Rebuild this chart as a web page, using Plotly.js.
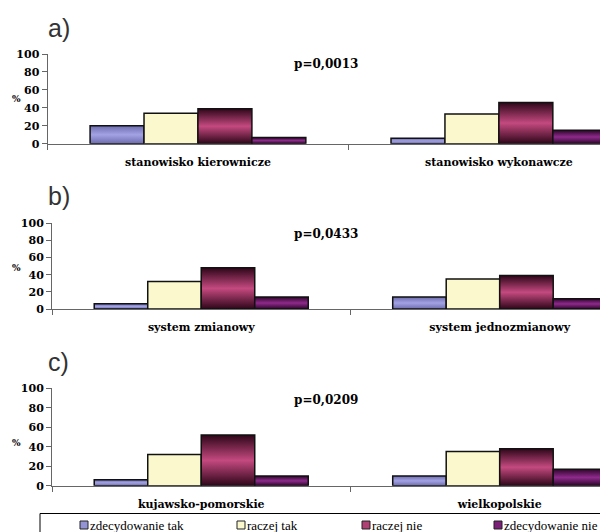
<!DOCTYPE html>
<html>
<head>
<meta charset="utf-8">
<script src="https://cdn.plot.ly/plotly-3.0.1.min.js"></script>
<style>
html,body{margin:0;padding:0;background:#fff;}
#chart{width:600px;height:532px;}
</style>
</head>
<body>
<div id="chart"></div>
<script>
// ---- data ----
const seriesNames = ["zdecydowanie tak", "raczej tak", "raczej nie", "zdecydowanie nie"];
const panelLabels = ["a)", "b)", "c)"];
const pValues = ["p=0,0013", "p=0,0433", "p=0,0209"];

const categoriesA = ["stanowisko kierownicze", "stanowisko wykonawcze"];
const categoriesB = ["system zmianowy", "system jednozmianowy"];
const categoriesC = ["kujawsko-pomorskie", "wielkopolskie"];

// values per series: [first category, second category]
const zdecydowanieTakA = [20, 6];
const raczejTakA       = [34, 33];
const raczejNieA       = [39, 46];
const zdecydowanieNieA = [7, 15];

const zdecydowanieTakB = [6, 14];
const raczejTakB       = [32, 35];
const raczejNieB       = [48, 39];
const zdecydowanieNieB = [14, 12];

const zdecydowanieTakC = [6, 10];
const raczejTakC       = [32, 35];
const raczejNieC       = [52, 38];
const zdecydowanieNieC = [10, 17];

const yTickVals = [0, 20, 40, 60, 80, 100];

// ---- styling ----
const flatColors = ["#9494d4", "#faf8cc", "#b03f74", "#7c1f78"];
const gradStops = [
  [["0", "#6c6cae"], ["0.5", "#a2a2e4"], ["1", "#6c6cae"]],
  null,
  [["0", "#2e0619"], ["0.5", "#c4497f"], ["1", "#2e0619"]],
  [["0", "#2c0529"], ["0.5", "#8e2a8c"], ["1", "#2c0529"]]
];
const serifBold = {family: "DejaVu Serif", size: 11, color: "#000", weight: "bold"};

const panels = [
  {cats: categoriesA, vals: [zdecydowanieTakA, raczejTakA, raczejNieA, zdecydowanieNieA]},
  {cats: categoriesB, vals: [zdecydowanieTakB, raczejTakB, raczejNieB, zdecydowanieNieB]},
  {cats: categoriesC, vals: [zdecydowanieTakC, raczejTakC, raczejNieC, zdecydowanieNieC]}
];

const W = 600, H = 532;
const py = p => 1 - p / H;
const px = p => p / W;

// pixel geometry of each panel: [left x, top y (100), bottom y (0)]
const geo = [[47.5, 54, 143.7], [52, 223.3, 309], [52, 388.3, 485.7]];

const traces = [];
panels.forEach((pn, i) => {
  const sfx = i === 0 ? "" : String(i + 1);
  pn.vals.forEach((v, s) => {
    traces.push({
      type: "bar",
      name: seriesNames[s],
      x: pn.cats,
      y: v,
      xaxis: "x" + sfx,
      yaxis: "y" + sfx,
      showlegend: false,
      hoverinfo: "skip",
      marker: {color: flatColors[s], line: {color: "#111", width: 1.5}}
    });
  });
});

const layout = {
  width: W, height: H,
  margin: {l: 0, r: 0, t: 0, b: 0, autoexpand: false},
  paper_bgcolor: "#fff", plot_bgcolor: "rgba(0,0,0,0)",
  barmode: "group", bargap: 0.283, bargroupgap: 0,
  showlegend: false,
  annotations: [], shapes: []
};

geo.forEach((g, i) => {
  const sfx = i === 0 ? "" : String(i + 1);
  layout["xaxis" + sfx] = {
    domain: [px(g[0]), 1], anchor: "y" + sfx,
    type: "category", range: [-0.5, 1.336],
    tickson: "boundaries", ticks: "outside", ticklen: 5, tickcolor: "#666",
    showline: true, linecolor: "#666", linewidth: 1,
    showgrid: false, zeroline: false,
    tickfont: serifBold, ticklabelstandoff: 8, fixedrange: true
  };
  layout["yaxis" + sfx] = {
    domain: [py(g[2]), py(g[1])], anchor: "x" + sfx,
    range: [0, 100], tickvals: yTickVals,
    ticks: "outside", ticklen: 5, tickcolor: "#666",
    showline: true, linecolor: "#666", linewidth: 1,
    showgrid: false, zeroline: false,
    tickfont: serifBold, fixedrange: true
  };
});

// panel letters, % labels, p values
const letterY = [28, 196, 362];
const pctY = [99, 268, 443];
const pY = [64.5, 234, 400];
for (let i = 0; i < 3; i++) {
  layout.annotations.push({xref: "paper", yref: "paper", x: px(46), y: py(letterY[i]),
    xanchor: "left", yanchor: "middle", showarrow: false, text: panelLabels[i],
    font: {family: "Liberation Sans", size: 25, color: "#333"}});
  layout.annotations.push({xref: "paper", yref: "paper", x: px(16), y: py(pctY[i]),
    xanchor: "center", yanchor: "middle", showarrow: false, text: "%",
    font: {family: "DejaVu Serif", size: 9, weight: "bold", color: "#000"}});
  layout.annotations.push({xref: "paper", yref: "paper", x: px(326), y: py(pY[i]),
    xanchor: "center", yanchor: "middle", showarrow: false, text: pValues[i],
    font: {family: "DejaVu Serif", size: 12, weight: "bold", color: "#000"}});
}

// legend box
layout.shapes.push({type: "rect", xref: "paper", yref: "paper",
  x0: px(40), x1: 1.1, y0: -0.1, y1: py(513.5), line: {color: "#000", width: 1}, fillcolor: "#fff", layer: "below"});
const legSwatchX = [84, 241, 366, 498];
const legY = 525;
seriesNames.forEach((nm, s) => {
  layout.shapes.push({type: "rect", xref: "paper", yref: "paper",
    x0: px(legSwatchX[s] - 4), x1: px(legSwatchX[s] + 4),
    y0: py(legY + 4), y1: py(legY - 4),
    line: {color: "#222", width: 1}, fillcolor: flatColors[s]});
  layout.annotations.push({xref: "paper", yref: "paper", x: px(legSwatchX[s] + 5), y: py(legY),
    xanchor: "left", yanchor: "middle", showarrow: false, text: nm, borderpad: 0,
    font: {family: "Liberation Serif", size: 13, color: "#000"}});
});

Plotly.newPlot("chart", traces, layout, {staticPlot: true, displayModeBar: false}).then(gd => {
  // apply vertical gradients to bar fills (matching reference shading)
  const svg = gd.querySelector("svg.main-svg");
  const ns = "http://www.w3.org/2000/svg";
  let defs = svg.querySelector("defs");
  if (!defs) { defs = document.createElementNS(ns, "defs"); svg.insertBefore(defs, svg.firstChild); }
  gradStops.forEach((stops, s) => {
    if (!stops) return;
    const lg = document.createElementNS(ns, "linearGradient");
    lg.setAttribute("id", "barGrad" + s);
    lg.setAttribute("x1", "0"); lg.setAttribute("y1", "0");
    lg.setAttribute("x2", "0"); lg.setAttribute("y2", "1");
    stops.forEach(st => {
      const e = document.createElementNS(ns, "stop");
      e.setAttribute("offset", st[0]); e.setAttribute("stop-color", st[1]);
      lg.appendChild(e);
    });
    defs.appendChild(lg);
  });
  gd.querySelectorAll("g.trace.bars").forEach((tr, idx) => {
    const s = idx % 4;
    if (!gradStops[s]) return;
    tr.querySelectorAll("path").forEach(p => { p.style.fill = "url(#barGrad" + s + ")"; });
  });
});
</script>
</body>
</html>
